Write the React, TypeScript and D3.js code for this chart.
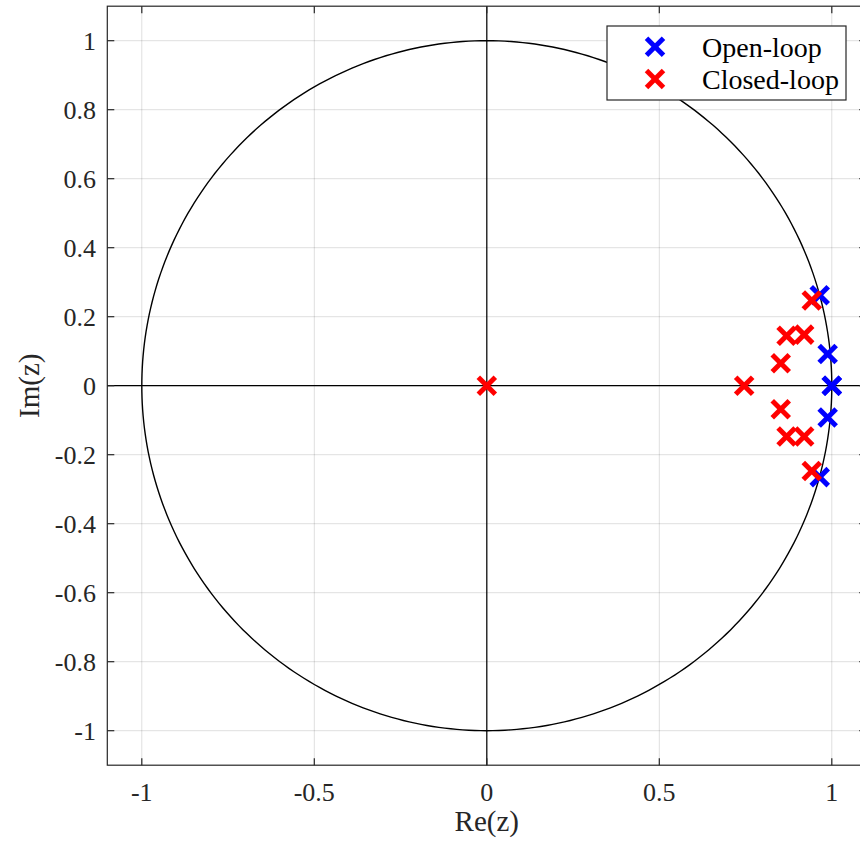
import React from "react";
import * as d3 from "d3";

const openLoopRe = [0.965, 0.988, 1.0, 1.0, 0.988, 0.965];
const openLoopIm = [0.262, 0.092, 0.0, 0.0, -0.092, -0.265];
const closedLoopRe = [0.0, 0.746, 0.852, 0.852, 0.869, 0.92, 0.869, 0.92, 0.942, 0.942];
const closedLoopIm = [0.0, 0.0, 0.065, -0.068, 0.145, 0.148, -0.147, -0.147, 0.247, -0.247];
const xTicks = [-1, -0.5, 0, 0.5, 1];
const yTicks = [-1, -0.8, -0.6, -0.4, -0.2, 0, 0.2, 0.4, 0.6, 0.8, 1];
const legendLabels = ["Open-loop", "Closed-loop"];
const legendColors = ["#0000ff", "#ff0000"];

const W = 860;
const H = 847;
const FONT = "'Liberation Serif', 'DejaVu Serif', serif";

export default function App() {
  const x = d3.scaleLinear().domain([-1.1, 1.1]).range([107.3, 866.3]);
  const y = d3.scaleLinear().domain([-1.1, 1.1]).range([765.2, 6.2]);
  const [x0, x1] = x.range();
  const [y0, y1] = y.range();
  const tick = 7;
  const fmt = (v: number) => (Math.abs(v) < 1e-9 ? "0" : String(+v.toFixed(1)));
  const theta = d3.range(0, 361).map((d) => (d * Math.PI) / 180);
  const circle = d3
    .line<number>()
    .x((t) => x(Math.cos(t)))
    .y((t) => y(Math.sin(t)))(theta);

  const cross = (cx: number, cy: number, color: string, key: string, s = 8.5) => (
    <g key={key} stroke={color} strokeWidth={5} strokeLinecap="butt">
      <line x1={cx - s} y1={cy - s} x2={cx + s} y2={cy + s} />
      <line x1={cx - s} y1={cy + s} x2={cx + s} y2={cy - s} />
    </g>
  );

  return (
    <svg
      width={W}
      height={H}
      style={{ position: "absolute", left: 0, top: 0, background: "#fff" }}
      fontFamily={FONT}
    >
      <rect x={0} y={0} width={W} height={H} fill="#fff" />
      {/* grid */}
      <g stroke="#000" strokeOpacity={0.13} strokeWidth={1}>
        {xTicks.map((t) => (
          <line key={"gx" + t} x1={x(t)} x2={x(t)} y1={y1} y2={y0} />
        ))}
        {yTicks.map((t) => (
          <line key={"gy" + t} x1={x0} x2={x1} y1={y(t)} y2={y(t)} />
        ))}
      </g>
      {/* unit circle and axes lines */}
      <path d={circle || ""} fill="none" stroke="#000" strokeWidth={1.4} />
      <line x1={x(0)} x2={x(0)} y1={y1} y2={y0} stroke="#000" strokeWidth={1.2} />
      <line x1={x0} x2={x1} y1={y(0)} y2={y(0)} stroke="#000" strokeWidth={1.2} />
      {/* points */}
      {openLoopRe.map((re, i) => cross(x(re), y(openLoopIm[i]), legendColors[0], "o" + i))}
      {closedLoopRe.map((re, i) => cross(x(re), y(closedLoopIm[i]), legendColors[1], "c" + i))}
      {/* box */}
      <rect x={x0} y={y1} width={x1 - x0} height={y0 - y1} fill="none" stroke="#262626" strokeWidth={1.2} />
      {/* ticks */}
      <g stroke="#262626" strokeWidth={1.2}>
        {xTicks.map((t) => (
          <g key={"tx" + t}>
            <line x1={x(t)} x2={x(t)} y1={y0} y2={y0 - tick} />
            <line x1={x(t)} x2={x(t)} y1={y1} y2={y1 + tick} />
          </g>
        ))}
        {yTicks.map((t) => (
          <g key={"ty" + t}>
            <line x1={x0} x2={x0 + tick} y1={y(t)} y2={y(t)} />
            <line x1={x1} x2={x1 - tick} y1={y(t)} y2={y(t)} />
          </g>
        ))}
      </g>
      {/* tick labels */}
      <g fill="#262626" fontSize={26}>
        {xTicks.map((t) => (
          <text key={"lx" + t} x={x(t)} y={801} textAnchor="middle">
            {fmt(t)}
          </text>
        ))}
        {yTicks.map((t) => (
          <text key={"ly" + t} x={96} y={y(t)} dy="0.35em" textAnchor="end">
            {fmt(t)}
          </text>
        ))}
      </g>
      {/* axis labels */}
      <text x={x(0)} y={831} textAnchor="middle" fontSize={29} fill="#262626">
        Re(z)
      </text>
      <text
        transform={`translate(39, ${y(0)}) rotate(-90)`}
        textAnchor="middle"
        fontSize={29}
        fill="#262626"
      >
        Im(z)
      </text>
      {/* legend */}
      <g>
        <rect x={607} y={26} width={239} height={74} fill="#fff" stroke="#262626" strokeWidth={1.2} />
        {legendLabels.map((lab, i) => (
          <g key={lab}>
            {cross(655, 46.7 + i * 32.3, legendColors[i], "l" + i)}
            <text x={702} y={46.7 + i * 32.3} dy="0.35em" fontSize={28} fill="#000">
              {lab}
            </text>
          </g>
        ))}
      </g>
    </svg>
  );
}
